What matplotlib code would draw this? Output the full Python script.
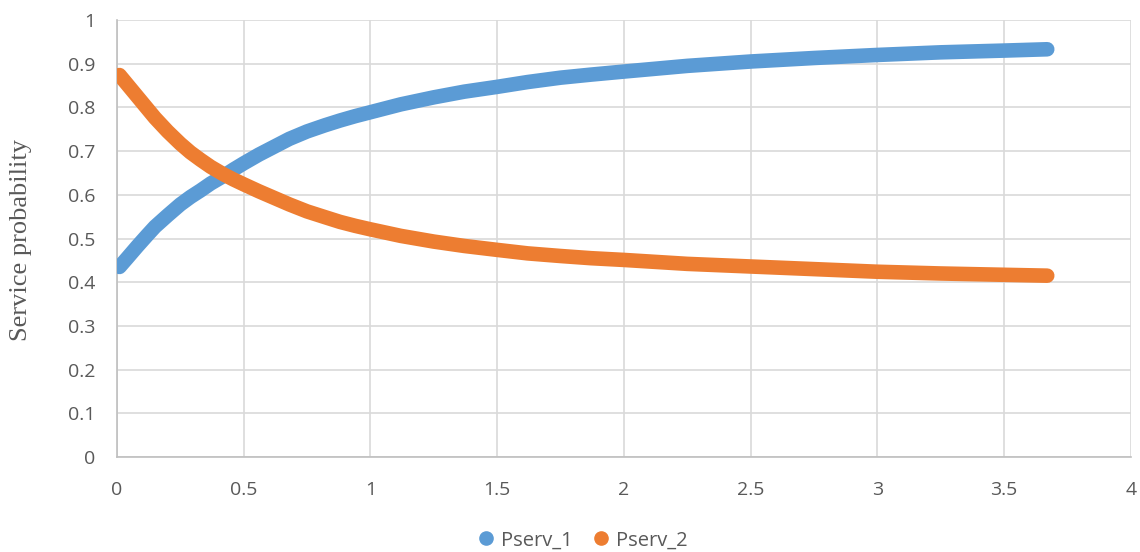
import matplotlib
matplotlib.use("Agg")
import matplotlib.pyplot as plt
from matplotlib.lines import Line2D

# Arrival rate (x) and service probabilities of the two servers
x_vals = [0.01, 0.04, 0.08, 0.12, 0.15, 0.2, 0.25, 0.29, 0.33, 0.37, 0.42, 0.46,
          0.5, 0.56, 0.62, 0.68, 0.75, 0.82, 0.88, 0.94, 1.0, 1.12, 1.25, 1.37,
          1.5, 1.62, 1.75, 1.87, 2.0, 2.25, 2.5, 2.75, 3.0, 3.25, 3.5, 3.67]
pserv_1 = [0.435, 0.455, 0.482, 0.508, 0.527, 0.553, 0.578, 0.595, 0.610, 0.626, 0.643, 0.658,
           0.672, 0.692, 0.710, 0.728, 0.745, 0.759, 0.770, 0.780, 0.789, 0.807, 0.823, 0.836,
           0.847, 0.858, 0.868, 0.875, 0.882, 0.895, 0.905, 0.913, 0.920, 0.926, 0.930, 0.933]
pserv_2 = [0.874, 0.853, 0.825, 0.797, 0.776, 0.745, 0.717, 0.697, 0.680, 0.664, 0.647, 0.635,
           0.624, 0.608, 0.593, 0.578, 0.562, 0.549, 0.538, 0.529, 0.521, 0.506, 0.493, 0.483,
           0.474, 0.466, 0.460, 0.455, 0.451, 0.442, 0.436, 0.430, 0.424, 0.420, 0.417, 0.415]
series_names = ["Pserv_1", "Pserv_2"]

x_ticks = [0, 0.5, 1, 1.5, 2, 2.5, 3, 3.5, 4]
x_tick_labels = ["0", "0.5", "1", "1.5", "2", "2.5", "3", "3.5", "4"]
y_ticks = [0, 0.1, 0.2, 0.3, 0.4, 0.5, 0.6, 0.7, 0.8, 0.9, 1]
y_tick_labels = ["0", "0.1", "0.2", "0.3", "0.4", "0.5", "0.6", "0.7", "0.8", "0.9", "1"]

BLUE = "#5b9bd5"
ORANGE = "#ed7d31"
TEXT = "#595959"
GRID = "#d9d9d9"

plt.rcParams["font.family"] = ["Open Sans", "DejaVu Sans"]

fig = plt.figure(figsize=(11.4, 5.52), dpi=100)
ax = fig.add_axes([0.1026, 0.172, 0.8894, 0.7918])

for ys, col in ((pserv_1, BLUE), (pserv_2, ORANGE)):
    ax.plot(x_vals, ys, color=col, linewidth=10.5, solid_capstyle="round",
            solid_joinstyle="round", zorder=3)

ax.set_xlim(0, 4)
ax.set_ylim(0, 1)
ax.set_xticks(x_ticks)
ax.set_xticklabels(x_tick_labels)
ax.set_yticks(y_ticks)
ax.set_yticklabels(y_tick_labels)
ax.tick_params(length=0, labelsize=14, colors=TEXT)
ax.tick_params(axis="y", pad=15.5)
ax.tick_params(axis="x", pad=17.5)

ax.grid(True, color=GRID, linewidth=1.2, zorder=0)
ax.set_axisbelow(True)
for side in ("top", "right"):
    ax.spines[side].set_visible(False)
for side in ("left", "bottom"):
    ax.spines[side].set_color("#bfbfbf")
    ax.spines[side].set_linewidth(1.2)

fig.text(21 / 1140, 1 - 240 / 552, "Service probability", family="Liberation Serif",
         fontsize=19, color=TEXT, rotation=90, ha="center", va="center")

handles = [Line2D([], [], marker="o", linestyle="none", markersize=9.5,
                  markerfacecolor=c, markeredgecolor=c) for c in (BLUE, ORANGE)]
leg = fig.legend(handles, series_names, loc="center", bbox_to_anchor=(0.512, 0.021),
                 ncol=2, frameon=False, fontsize=14.5, handletextpad=0.4,
                 columnspacing=1.05, handlelength=0.7, borderpad=0)
for t in leg.get_texts():
    t.set_color(TEXT)

fig.savefig("out.png", dpi=100, facecolor="white")
